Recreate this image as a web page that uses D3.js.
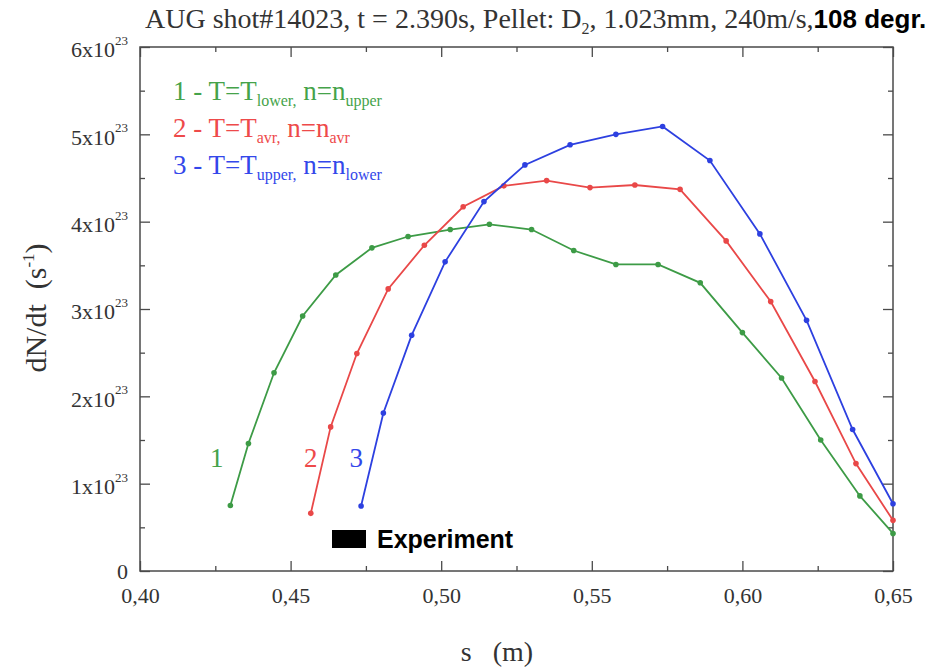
<!DOCTYPE html>
<html>
<head>
<meta charset="utf-8">
<script src="https://cdn.jsdelivr.net/npm/d3@7"></script>
<style>
  body { margin: 0; background: #fff; }
  svg { display: block; }
  text { font-family: "Liberation Serif", "Times New Roman", serif; }
</style>
</head>
<body>
<div id="chart"></div>
<script>
// curve 1: T=T_lower, n=n_upper (dN/dt in units of 1e23 s^-1)
const s1 = [0.430, 0.436, 0.4445, 0.454, 0.465, 0.477, 0.489, 0.503, 0.516, 0.530, 0.544, 0.558, 0.572, 0.586, 0.600, 0.613, 0.626, 0.639, 0.650];
const dndt1 = [0.75, 1.46, 2.27, 2.92, 3.39, 3.70, 3.83, 3.91, 3.97, 3.91, 3.67, 3.51, 3.51, 3.30, 2.73, 2.21, 1.50, 0.86, 0.43];
// curve 2: T=T_avr, n=n_avr
const s2 = [0.4567, 0.4633, 0.472, 0.4824, 0.4944, 0.5073, 0.5208, 0.535, 0.5494, 0.5643, 0.5793, 0.5946, 0.6094, 0.6241, 0.6377, 0.650];
const dndt2 = [0.66, 1.65, 2.49, 3.23, 3.73, 4.17, 4.41, 4.47, 4.39, 4.42, 4.37, 3.78, 3.085, 2.17, 1.23, 0.58];
// curve 3: T=T_upper, n=n_lower
const s3 = [0.4734, 0.4808, 0.4902, 0.5013, 0.5142, 0.5278, 0.5428, 0.558, 0.5735, 0.5892, 0.6058, 0.6213, 0.6366, 0.650];
const dndt3 = [0.745, 1.81, 2.70, 3.54, 4.23, 4.65, 4.88, 5.00, 5.09, 4.70, 3.86, 2.87, 1.62, 0.77];

const xTicks = [0.40, 0.45, 0.50, 0.55, 0.60, 0.65];
const xMinor = [0.425, 0.475, 0.525, 0.575, 0.625];
const yTicks = [0, 1, 2, 3, 4, 5, 6];
const yMinor = [0.5, 1.5, 2.5, 3.5, 4.5, 5.5];

const legendLabels = [
  { num: '1', T: 'lower', n: 'upper' },
  { num: '2', T: 'avr', n: 'avr' },
  { num: '3', T: 'upper', n: 'lower' },
];
const numX = [0.4255, 0.4567, 0.4718];
const colors = ['#3d9b46', '#e94848', '#2d40e0'];
const textColors = ['#45a34a', '#ee4a4a', '#3347ea'];

const width = 933, height = 669;
const margin = { top: 47, right: 40, bottom: 98, left: 140 };
const axisColor = '#4a4a4a';

const svg = d3.select('#chart').append('svg')
  .attr('width', width)
  .attr('height', height);

const x = d3.scaleLinear().domain([0.40, 0.65]).range([margin.left, width - margin.right]);
const y = d3.scaleLinear().domain([0, 6]).range([height - margin.bottom, margin.top]);

const commaFmt = d3.formatLocale({ decimal: ',', thousands: '.', grouping: [3], currency: ['', ''] }).format('.2f');

// frame
svg.append('rect')
  .attr('x', x(0.40)).attr('y', y(6))
  .attr('width', x(0.65) - x(0.40)).attr('height', y(0) - y(6))
  .attr('fill', 'none').attr('stroke', axisColor).attr('stroke-width', 1.5);

const styleAxis = g => {
  g.select('.domain').remove();
  g.selectAll('line').attr('stroke', axisColor).attr('stroke-width', 1.3);
};

// bottom axis, ticks pointing inwards
svg.append('g')
  .attr('transform', `translate(0,${y(0)})`)
  .call(d3.axisBottom(x).tickValues(xTicks).tickSizeInner(-10).tickSizeOuter(0).tickPadding(16).tickFormat(commaFmt))
  .call(styleAxis)
  .call(g => g.selectAll('text').attr('font-size', 22).attr('fill', '#333')
    .style('font-family', '"Liberation Serif", serif'));
svg.append('g')
  .attr('transform', `translate(0,${y(0)})`)
  .call(d3.axisBottom(x).tickValues(xMinor).tickSizeInner(-5).tickSizeOuter(0).tickFormat(''))
  .call(styleAxis);
// top axis
svg.append('g')
  .attr('transform', `translate(0,${y(6)})`)
  .call(d3.axisTop(x).tickValues(xTicks).tickSizeInner(-10).tickSizeOuter(0).tickFormat(''))
  .call(styleAxis);
svg.append('g')
  .attr('transform', `translate(0,${y(6)})`)
  .call(d3.axisTop(x).tickValues(xMinor).tickSizeInner(-5).tickSizeOuter(0).tickFormat(''))
  .call(styleAxis);

// left axis
const yAxis = svg.append('g')
  .attr('transform', `translate(${x(0.40)},0)`)
  .call(d3.axisLeft(y).tickValues(yTicks).tickSizeInner(-10).tickSizeOuter(0).tickPadding(12).tickFormat(''))
  .call(styleAxis);
yAxis.selectAll('.tick text')
  .attr('font-size', 22)
  .attr('fill', '#333')
  .style('font-family', '"Liberation Serif", serif')
  .each(function (d) {
    const t = d3.select(this);
    if (d === 0) {
      t.append('tspan').text('0');
    } else {
      t.attr('dy', '0.45em');
      t.append('tspan').text(`${d}x10`);
      t.append('tspan').attr('font-size', 13).attr('dy', '-0.95em').text('23');
    }
  });
svg.append('g')
  .attr('transform', `translate(${x(0.40)},0)`)
  .call(d3.axisLeft(y).tickValues(yMinor).tickSizeInner(-5).tickSizeOuter(0).tickFormat(''))
  .call(styleAxis);
// right axis
svg.append('g')
  .attr('transform', `translate(${x(0.65)},0)`)
  .call(d3.axisRight(y).tickValues(yTicks).tickSizeInner(-10).tickSizeOuter(0).tickFormat(''))
  .call(styleAxis);
svg.append('g')
  .attr('transform', `translate(${x(0.65)},0)`)
  .call(d3.axisRight(y).tickValues(yMinor).tickSizeInner(-5).tickSizeOuter(0).tickFormat(''))
  .call(styleAxis);

// curves
const series = [
  d3.zip(s1, dndt1),
  d3.zip(s2, dndt2),
  d3.zip(s3, dndt3),
];
const line = d3.line().x(d => x(d[0])).y(d => y(d[1]));

series.forEach((pts, i) => {
  svg.append('path')
    .datum(pts)
    .attr('d', line)
    .attr('fill', 'none')
    .attr('stroke', colors[i])
    .attr('stroke-width', 1.8);
  svg.append('g')
    .selectAll('circle')
    .data(pts)
    .join('circle')
    .attr('cx', d => x(d[0]))
    .attr('cy', d => y(d[1]))
    .attr('r', 2.8)
    .attr('fill', colors[i]);
});

// curve numbers near the start of each curve
numX.forEach((s, i) => {
  svg.append('text')
    .attr('x', x(s))
    .attr('y', 467)
    .attr('text-anchor', 'middle')
    .attr('font-size', 27)
    .attr('fill', textColors[i])
    .text(legendLabels[i].num);
});

// legend
const legend = svg.append('g').attr('font-size', 27);
legendLabels.forEach((d, i) => {
  const t = legend.append('text')
    .attr('x', 173)
    .attr('y', 100 + i * 37)
    .attr('fill', textColors[i]);
  t.append('tspan').text(`${d.num} - T=T`);
  t.append('tspan').attr('font-size', 16).attr('dy', 6).text(d.T + ',');
  t.append('tspan').attr('dy', -6).text(' n=n');
  t.append('tspan').attr('font-size', 16).attr('dy', 6).text(d.n);
});

// experiment marker
svg.append('rect')
  .attr('x', 332).attr('y', 530)
  .attr('width', 34).attr('height', 18)
  .attr('fill', '#000');
svg.append('text')
  .attr('x', 377).attr('y', 548)
  .attr('font-size', 25)
  .attr('font-weight', 'bold')
  .style('font-family', '"Liberation Sans", Arial, sans-serif')
  .attr('fill', '#000')
  .text('Experiment');

// title
const title = svg.append('text')
  .attr('x', 145).attr('y', 28)
  .attr('font-size', 28)
  .attr('fill', '#333');
title.append('tspan').text('AUG shot#14023, t = 2.390s, Pellet: D');
title.append('tspan').attr('font-size', 16).attr('dy', 6).text('2');
title.append('tspan').attr('dy', -6).text(', 1.023mm, 240m/s,');
title.append('tspan')
  .style('font-family', '"Liberation Sans", Arial, sans-serif')
  .attr('font-weight', 'bold')
  .attr('font-size', 26)
  .attr('fill', '#000')
  .text('108 degr.');

// axis titles
svg.append('text')
  .attr('x', 497).attr('y', 661)
  .attr('text-anchor', 'middle')
  .attr('font-size', 28)
  .attr('fill', '#333')
  .attr('xml:space', 'preserve')
  .text('s   (m)');

const yTitle = svg.append('text')
  .attr('transform', 'translate(46,308) rotate(-90)')
  .attr('text-anchor', 'middle')
  .attr('font-size', 30)
  .attr('fill', '#333')
  .attr('xml:space', 'preserve');
yTitle.append('tspan').text('dN/dt  (s');
yTitle.append('tspan').attr('font-size', 17).attr('dy', -12).text('-1');
yTitle.append('tspan').attr('dy', 12).text(')');
</script>
</body>
</html>
